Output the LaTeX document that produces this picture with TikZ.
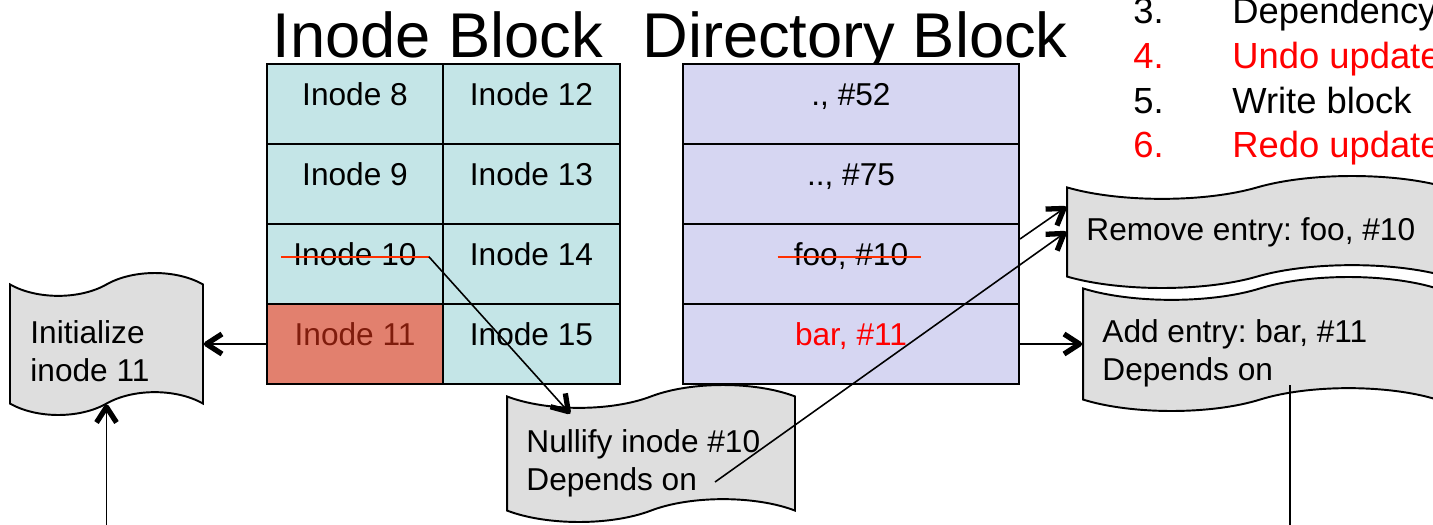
\documentclass[tikz,border=0pt]{standalone}
\usepackage{fontspec}
\setmainfont{Liberation Sans}
\frenchspacing
\usetikzlibrary{calc, shapes.symbols, decorations.markings}

\definecolor{inodecyan}{HTML}{C4E5E7}
\definecolor{inodered}{HTML}{E2806E}
\definecolor{inodedark}{HTML}{7F1C0C}
\definecolor{dirblue}{HTML}{D6D6F2}
\definecolor{tapegray}{HTML}{DEDEDE}
\definecolor{strikered}{HTML}{FF2F00}

\tikzset{
	cellnode/.style={
			shape=rectangle,
			draw=black,
			line width=1.1pt,
			minimum height=1.6cm,
			inner sep=0pt
		},
	inodecell/.style={
			cellnode,
			fill=inodecyan,
			minimum width=3.53cm
		},
	freshcell/.style={
			inodecell,
			fill=inodered
		},
	dircell/.style={
			cellnode,
			fill=dirblue,
			minimum width=6.72cm
		},
	tapenode/.style={
			shape=tape,
			draw=black,
			line width=1.1pt,
			fill=tapegray,
			tape bend height=13pt,
			inner sep=0pt
		}
}
\tikzset{
	celltext/.style={anchor=base, yshift=-1pt, inner sep=0pt, font=\fontsize{18}{21.5}\selectfont},
	tapetext/.style={anchor=west, inner sep=0pt, align=left, font=\fontsize{18}{21.5}\selectfont},
	titletext/.style={anchor=base, inner sep=0pt, font=\fontsize{36}{40}\selectfont},
	listtext/.style={anchor=base west, inner sep=0pt, font=\fontsize{20.7}{25}\selectfont},
	strike/.style={draw=strikered, line width=1.1pt},
	connline/.style={line width=0.9pt},
	conn/.style={
			connline,
			postaction={decorate},
			decoration={markings, mark=at position 1 with {
				\draw[line width=3pt, line join=round] (-3.6mm,2mm) -- (-0.5mm,0) -- (-3.6mm,-2mm);
			}}
		}
}

\begin{document}
\begin{tikzpicture}[x=0.02cm, y=-0.02cm]

              \useasboundingbox (0,0) rectangle (1433,524);
              \clip (0,0) rectangle (1433,524);

              \node[titletext] (tinode) at (438,57) {Inode Block};
              \node[titletext] (tdir) at (855,57) {Directory Block};

              \node[inodecell] (i8) at (355,104) {};
              \node[inodecell] (i9) at (355,184) {};
              \node[inodecell] (i10) at (355,264) {};
              \node[freshcell] (i11) at (355,344) {};
              \node[inodecell] (i12) at (531.5,104) {};
              \node[inodecell] (i13) at (531.5,184) {};
              \node[inodecell] (i14) at (531.5,264) {};
              \node[inodecell] (i15) at (531.5,344) {};

              \node[celltext] (t8) at (i8) {Inode 8};
              \node[celltext] (t9) at (i9) {Inode 9};
              \node[celltext] (t10) at (i10) {Inode 10};
              \node[celltext, text=inodedark] (t11) at (i11) {Inode 11};
              \node[celltext] (t12) at (i12) {Inode 12};
              \node[celltext] (t13) at (i13) {Inode 13};
              \node[celltext] (t14) at (i14) {Inode 14};
              \node[celltext] (t15) at (i15) {Inode 15};

              \node[dircell] (d1) at (851,104) {};
              \node[dircell] (d2) at (851,184) {};
              \node[dircell] (d3) at (851,264) {};
              \node[dircell] (d4) at (851,344) {};

              \node[celltext] (e1) at (d1) {., \#52};
              \node[celltext] (e2) at (d2) {.., \#75};
              \node[celltext] (e3) at (d3) {foo, \#10};
              \node[celltext, text=red] (e4) at (d4) {bar, \#11};

              \draw[strike] ($(t10.base west)+(-12,-9)$) -- ($(t10.base east)+(12,-9)$) coordinate (s10);
              \draw[strike] ($(e3.base west)+(-16,-9)$) -- ($(e3.base east)+(12,-9)$);

              \node[listtext] (n3) at (1133,23) {3.};
              \node[listtext, text=red] (n4) at (1133,68) {4.};
              \node[listtext] (n5) at (1133,113) {5.};
              \node[listtext, text=red] (n6) at (1133,157) {6.};
              \node[listtext] (l3) at (1232,23) {Dependency};
              \node[listtext, text=red] (l4) at (1232,68) {Undo update};
              \node[listtext] (l5) at (1232,113) {Write block};
              \node[listtext, text=red] (l6) at (1232,157) {Redo update};

              \node[tapenode, minimum width=3.86cm, minimum height=2.84cm] (ini) at (106.5,344) {};
              \node[tapenode, minimum width=5.76cm, minimum height=2.74cm] (nul) at (651,453.5) {};
              \node[tapenode, minimum width=7.6cm, minimum height=2.24cm] (rem) at (1257,232) {};
              \node[tapenode, minimum width=7.08cm, minimum height=2.68cm] (add) at (1260,344) {};

              \node[tapetext] (inilbl) at ($(ini.west)+(21,7)$) {Initialize\\inode 11};
              \node[tapetext] (nullbl) at ($(nul.west)+(20,10)$) {Nullify inode \#10\\Depends on};
              \node[tapetext] (remlbl) at ($(rem.west)+(20,0)$) {Remove entry: foo, \#10};
              \node[tapetext] (addlbl) at ($(add.west)+(20,9)$) {Add entry: bar, \#11\\Depends on};

              \coordinate (inilow) at (106.5,540);
              \coordinate (nuldep) at (715,482);
              \coordinate (adddep) at (1290,385);
              \coordinate (addlow) at (1290,540);

              \draw[conn] (i11) -- (ini);
              \draw[conn] (inilow) -- (ini.south);
              \draw[conn] (s10) -- ($(nul)+(-81,-40)$);
              \draw[conn] ($(d3.north east)+(0,16)$) -- ($(rem.west)+(0,-25)$);
              \draw[conn] (nuldep) -- (rem.west);
              \draw[conn] (d4) -- (add);
              \draw[connline] (adddep) -- (addlow);

            \end{tikzpicture}
\end{document}
